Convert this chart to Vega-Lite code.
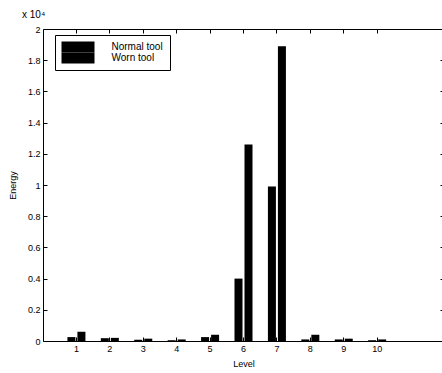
{
  "$schema": "https://vega.github.io/schema/vega-lite/v6.json",
  "width": 401,
  "height": 312,
  "autosize": "none",
  "padding": {"left": 43, "top": 29, "right": 0, "bottom": 32},
  "background": "white",
  "title": {"text": "x 10⁴", "anchor": "start", "frame": "group", "dx": -21, "offset": 5, "fontSize": 10, "fontWeight": "normal", "font": "Liberation Sans", "color": "black"},
  "config": {
    "view": {"stroke": "black", "strokeWidth": 1},
    "font": "Liberation Sans",
    "axis": {"grid": false, "domainColor": "black", "tickColor": "black", "labelColor": "black", "titleColor": "black", "labelFontSize": 9, "titleFontSize": 9, "titleFontWeight": "normal", "tickSize": -4, "labelPadding": 6}
  },
  "data": {"values": [
    {"level": 1, "tool": "Normal tool", "energy": 0.025},
    {"level": 1, "tool": "Worn tool", "energy": 0.06},
    {"level": 2, "tool": "Normal tool", "energy": 0.018},
    {"level": 2, "tool": "Worn tool", "energy": 0.02},
    {"level": 3, "tool": "Normal tool", "energy": 0.008},
    {"level": 3, "tool": "Worn tool", "energy": 0.015},
    {"level": 4, "tool": "Normal tool", "energy": 0.005},
    {"level": 4, "tool": "Worn tool", "energy": 0.01},
    {"level": 5, "tool": "Normal tool", "energy": 0.025},
    {"level": 5, "tool": "Worn tool", "energy": 0.04},
    {"level": 6, "tool": "Normal tool", "energy": 0.40},
    {"level": 6, "tool": "Worn tool", "energy": 1.26},
    {"level": 7, "tool": "Normal tool", "energy": 0.99},
    {"level": 7, "tool": "Worn tool", "energy": 1.89},
    {"level": 8, "tool": "Normal tool", "energy": 0.01},
    {"level": 8, "tool": "Worn tool", "energy": 0.04},
    {"level": 9, "tool": "Normal tool", "energy": 0.01},
    {"level": 9, "tool": "Worn tool", "energy": 0.015},
    {"level": 10, "tool": "Normal tool", "energy": 0.005},
    {"level": 10, "tool": "Worn tool", "energy": 0.01}
  ]},
  "layer": [
    {
      "mark": {"type": "bar", "stroke": null},
      "encoding": {
        "x": {"field": "level", "type": "ordinal", "scale": {"domain": [1,2,3,4,5,6,7,8,9,10,11], "paddingInner": 0, "paddingOuter": 0.5},
              "axis": {"values": [1,2,3,4,5,6,7,8,9,10], "labelAngle": 0, "title": "Level", "titlePadding": 6, "labelPadding": 7, "domain": false}},
        "xOffset": {"field": "tool", "type": "nominal", "scale": {"paddingInner": 0.2, "paddingOuter": 0.77}},
        "y": {"field": "energy", "type": "quantitative", "scale": {"domain": [0, 2], "nice": false},
              "axis": {"values": [0,0.2,0.4,0.6,0.8,1,1.2,1.4,1.6,1.8,2], "title": "Energy", "titlePadding": 10, "labelPadding": 7, "domain": false, "format": "~g"}},
        "color": {"field": "tool", "type": "nominal", "scale": {"range": ["black", "black"]},
                  "legend": {"title": null, "orient": "none", "legendX": 12, "legendY": 6, "symbolType": "M-1,-1H5V1H-1Z", "symbolSize": 121, "symbolStrokeWidth": 0, "labelFontSize": 10, "labelColor": "black", "strokeColor": "black", "fillColor": "white", "padding": 6.5, "rowPadding": -3, "labelOffset": 39}}
      }
    },
    {
      "mark": {"type": "bar", "opacity": 0},
      "encoding": {
        "x": {"field": "level", "type": "ordinal", "axis": {"orient": "top", "values": [1,2,3,4,5,6,7,8,9,10], "labels": false, "title": null, "domain": false}},
        "xOffset": {"field": "tool", "type": "nominal"},
        "y": {"field": "energy", "type": "quantitative", "axis": {"orient": "right", "values": [0,0.2,0.4,0.6,0.8,1,1.2,1.4,1.6,1.8,2], "labels": false, "title": null, "domain": false}}
      }
    }
  ],
  "resolve": {"axis": {"x": "independent", "y": "independent"}}
}
